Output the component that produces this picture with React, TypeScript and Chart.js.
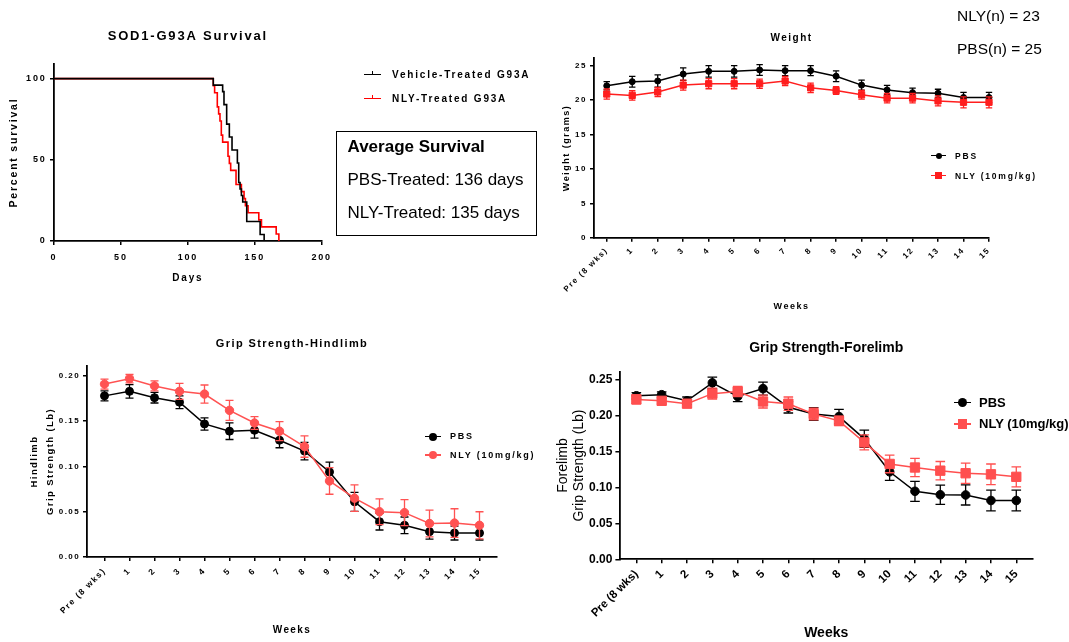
import React, { useEffect, useRef } from 'react';
import { Chart, registerables } from 'chart.js';

Chart.register(...registerables);

const FONT = '"Liberation Sans", Arial, Helvetica, sans-serif';

// ---------------- Survival (Kaplan-Meier) ----------------
const vehicleDays = [0, 119, 126, 127, 129, 131, 133, 137, 138, 139, 140, 141, 144, 154, 157];
const vehicleSurvival = [100, 96, 92, 84, 72, 64, 56, 48, 36, 32, 28, 24, 12, 4, 0];
const nlyDays = [0, 119, 120, 122, 123, 124, 125, 126, 130, 131, 132, 136, 140, 142, 143, 145, 153, 155, 166, 168];
const nlySurvival = [100, 95.7, 91.3, 82.6, 78.3, 73.9, 65.2, 60.9, 52.2, 47.8, 43.5, 34.8, 30.4, 26.1, 21.7, 17.4, 13, 8.7, 4.3, 0];
const survivalXTicks = [0, 50, 100, 150, 200];
const survivalYTicks = [0, 50, 100];

// ---------------- Weekly measurements ----------------
const weekLabels = ['Pre (8 wks)', '1', '2', '3', '4', '5', '6', '7', '8', '9', '10', '11', '12', '13', '14', '15'];

const pbsWeight = [22.1, 22.7, 22.8, 23.8, 24.2, 24.2, 24.4, 24.3, 24.3, 23.5, 22.2, 21.5, 21.1, 21.0, 20.4, 20.4];
const pbsWeightErr = [0.6, 0.78, 0.9, 0.92, 0.83, 0.83, 0.78, 0.73, 0.73, 0.78, 0.73, 0.66, 0.66, 0.6, 0.75, 0.75];
const nlyWeight = [20.9, 20.7, 21.2, 22.2, 22.4, 22.4, 22.4, 22.8, 21.8, 21.4, 20.8, 20.3, 20.3, 19.9, 19.7, 19.7];
const nlyWeightErr = [0.73, 0.68, 0.68, 0.73, 0.73, 0.73, 0.68, 0.66, 0.68, 0.56, 0.63, 0.68, 0.68, 0.73, 0.8, 0.8];
const weightYTicks = [0, 5, 10, 15, 20, 25];

const pbsHind = [0.178, 0.183, 0.176, 0.171, 0.147, 0.139, 0.14, 0.129, 0.117, 0.094, 0.061, 0.039, 0.035, 0.028, 0.0265, 0.0265];
const pbsHindErr = [0.0055, 0.0074, 0.0059, 0.007, 0.0068, 0.0092, 0.0087, 0.0083, 0.0096, 0.0107, 0.0105, 0.0092, 0.0092, 0.0083, 0.0077, 0.0077];
const nlyHind = [0.191, 0.197, 0.189, 0.183, 0.18, 0.162, 0.148, 0.139, 0.122, 0.084, 0.065, 0.05, 0.049, 0.037, 0.0375, 0.035];
const nlyHindErr = [0.0055, 0.0046, 0.0055, 0.0088, 0.01, 0.011, 0.007, 0.0105, 0.0118, 0.0147, 0.0147, 0.0142, 0.0144, 0.0147, 0.0158, 0.015];
const hindYTicks = [0, 0.05, 0.1, 0.15, 0.2];

const pbsFore = [0.228, 0.2295, 0.221, 0.246, 0.227, 0.238, 0.212, 0.2026, 0.199, 0.168, 0.122, 0.0948, 0.09, 0.0897, 0.082, 0.082];
const pbsForeErr = [0.0045, 0.004, 0.0053, 0.008, 0.007, 0.009, 0.008, 0.009, 0.01, 0.012, 0.012, 0.014, 0.0135, 0.014, 0.0144, 0.0144];
const nlyFore = [0.223, 0.221, 0.217, 0.231, 0.234, 0.22, 0.217, 0.2026, 0.193, 0.163, 0.133, 0.128, 0.1236, 0.12, 0.1185, 0.115];
const nlyForeErr = [0.0063, 0.0042, 0.005, 0.0077, 0.007, 0.009, 0.0093, 0.008, 0.0065, 0.0105, 0.0123, 0.0128, 0.0128, 0.014, 0.0144, 0.014];
const foreYTicks = [0, 0.05, 0.1, 0.15, 0.2, 0.25];

// ---------------- helpers ----------------
const spacingPlugin = (px: number) => ({
  id: 'letterSpacing',
  beforeLayout(chart: any) {
    (chart.ctx as any).letterSpacing = px + 'px';
  },
  beforeDraw(chart: any) {
    (chart.ctx as any).letterSpacing = px + 'px';
  },
});

const errorBarPlugin = {
  id: 'errorBars',
  beforeDatasetDraw(chart: any, args: any) {
    const ds = chart.data.datasets[args.index];
    if (!ds.errors) return;
    const meta = args.meta;
    const yScale = chart.scales[meta.yAxisID];
    const ctx = chart.ctx;
    const cap = ds.errorCap || 3;
    ctx.save();
    ctx.strokeStyle = ds.borderColor;
    ctx.lineWidth = ds.errorWidth || 1.3;
    meta.data.forEach((pt: any, i: number) => {
      const v = ds.data[i].y;
      const e = ds.errors[i];
      const x = pt.x;
      const y1 = yScale.getPixelForValue(v + e);
      const y2 = yScale.getPixelForValue(v - e);
      ctx.beginPath();
      ctx.moveTo(x, y1);
      ctx.lineTo(x, y2);
      ctx.moveTo(x - cap, y1);
      ctx.lineTo(x + cap, y1);
      ctx.moveTo(x - cap, y2);
      ctx.lineTo(x + cap, y2);
      ctx.stroke();
    });
    ctx.restore();
  },
};

const f = (size: number, weight: string = 'bold', lineHeight: number = 1.2) => ({ family: FONT, size, weight, lineHeight });
const border = { display: true, color: '#000', width: 1.8 };
const tickGrid = { display: true, drawOnChartArea: false, drawTicks: true, tickLength: 4, color: '#000', lineWidth: 1.5 };

function series(label: string, values: number[], errors: number[], color: string, style: string, radius: number, order: number, cap: number) {
  return {
    label,
    data: values.map((v, i) => ({ x: i, y: v })),
    errors,
    errorCap: cap,
    errorWidth: 1.3,
    borderColor: color,
    backgroundColor: color,
    borderWidth: 1.5,
    pointStyle: style,
    pointRadius: radius,
    pointBorderWidth: 1,
    pointBackgroundColor: color,
    pointBorderColor: color,
    tension: 0,
    clip: false,
    order,
  };
}

function weekAxis(min: number, max: number, fontSize: number, pad: number, height: number, titleFont: any, titlePadBottom: number) {
  return {
    type: 'linear',
    min,
    max,
    afterBuildTicks: (s: any) => {
      s.ticks = weekLabels.map((_, i) => ({ value: i }));
    },
    afterFit: (s: any) => {
      s.height = height;
    },
    border,
    grid: tickGrid,
    ticks: {
      color: '#000',
      font: f(fontSize),
      padding: pad,
      autoSkip: false,
      minRotation: 45,
      maxRotation: 45,
      callback: (v: number) => weekLabels[v] ?? '',
    },
    title: { display: true, text: 'Weeks', color: '#000', font: titleFont, padding: { top: 0, bottom: titlePadBottom } },
  };
}

function valueAxis(max: number, ticks: number[], digits: number, fontSize: number, width: number, title: any, titleFont: any, titlePadTop: number) {
  return {
    type: 'linear',
    min: 0,
    max,
    afterBuildTicks: (s: any) => {
      s.ticks = ticks.map((v) => ({ value: v }));
    },
    afterFit: (s: any) => {
      s.width = width;
    },
    border,
    grid: tickGrid,
    ticks: { color: '#000', font: f(fontSize), padding: 3, callback: (v: number) => v.toFixed(digits) },
    title: { display: true, text: title, color: '#000', font: titleFont, padding: { top: titlePadTop, bottom: 0 } },
  };
}

const baseOptions = (pad: any, title: string, titleFont: any, titlePadBottom: number) => ({
  animation: false,
  responsive: false,
  maintainAspectRatio: false,
  events: [],
  layout: { padding: pad },
  plugins: {
    legend: { display: false },
    tooltip: { enabled: false },
    title: { display: true, text: title, color: '#000', font: titleFont, padding: { top: 0, bottom: titlePadBottom }, fullSize: false },
  },
});

// ---------------- chart configs ----------------
const survivalConfig = (): any => ({
  type: 'line',
  data: {
    datasets: [
      {
        label: 'Vehicle-Treated G93A',
        data: vehicleDays.map((d, i) => ({ x: d, y: vehicleSurvival[i] })),
        stepped: true,
        borderColor: '#000',
        borderWidth: 1.6,
        pointRadius: 0,
        fill: false,
        clip: false,
        order: 1,
      },
      {
        label: 'NLY-Treated G93A',
        data: nlyDays.map((d, i) => ({ x: d, y: nlySurvival[i] })),
        stepped: true,
        borderColor: '#ff0000',
        borderWidth: 1.6,
        pointRadius: 0,
        fill: false,
        clip: false,
        order: 2,
      },
    ],
  },
  options: {
    ...baseOptions({ top: 28.2, left: 0, right: 18.3, bottom: 0 }, 'SOD1-G93A Survival', f(13), 20.2),
    scales: {
      x: {
        type: 'linear',
        min: 0,
        max: 200,
        afterBuildTicks: (s: any) => {
          s.ticks = survivalXTicks.map((v) => ({ value: v }));
        },
        afterFit: (s: any) => {
          s.height = 59;
        },
        border,
        grid: tickGrid,
        ticks: { color: '#000', font: f(9), padding: 7, maxRotation: 0, autoSkip: false },
        title: { display: true, text: 'Days', color: '#000', font: f(10), padding: { top: 0, bottom: 16 } },
      },
      y: {
        type: 'linear',
        min: 0,
        max: 109,
        afterBuildTicks: (s: any) => {
          s.ticks = survivalYTicks.map((v) => ({ value: v }));
        },
        afterFit: (s: any) => {
          s.width = 54;
        },
        border,
        grid: tickGrid,
        ticks: { color: '#000', font: f(9), padding: 3.5 },
        title: { display: true, text: 'Percent survival', color: '#000', font: f(10.5), padding: { top: 7.5, bottom: 0 } },
      },
    },
  },
  plugins: [spacingPlugin(1.8)],
});

const weightConfig = (): any => ({
  type: 'line',
  data: {
    datasets: [
      series('PBS', pbsWeight, pbsWeightErr, '#000000', 'circle', 3, 2, 3.2),
      series('NLY (10mg/kg)', nlyWeight, nlyWeightErr, '#ff1e1e', 'rect', 4.4, 1, 3.2),
    ],
  },
  options: {
    ...baseOptions({ top: 32.3, left: 0, right: 80, bottom: 0 }, 'Weight', f(10), 14),
    scales: {
      x: weekAxis(-0.5, 15, 8, 4, 82.3, f(9), 7.9),
      y: valueAxis(26.1, weightYTicks, 0, 8, 54, 'Weight (grams)', f(9), 21.6),
    },
  },
  plugins: [spacingPlugin(1.5), errorBarPlugin],
});

const hindConfig = (): any => ({
  type: 'line',
  data: {
    datasets: [
      series('PBS', pbsHind, pbsHindErr, '#000000', 'circle', 4, 2, 4),
      series('NLY (10mg/kg)', nlyHind, nlyHindErr, '#ff5252', 'circle', 4.2, 1, 4),
    ],
  },
  options: {
    ...baseOptions({ top: 17.4, left: 0, right: 43, bottom: 0 }, 'Grip Strength-Hindlimb', f(11), 15.4),
    scales: {
      x: weekAxis(-0.7, 15.7, 8.5, 5, 85, f(10), 5.3),
      y: valueAxis(0.211, hindYTicks, 2, 8, 87, ['Hindlimb', 'Grip Strength (Lb)'], f(9.5, 'bold', 1.63), 26.75),
    },
  },
  plugins: [spacingPlugin(1.4), errorBarPlugin],
});

const foreConfig = (): any => ({
  type: 'line',
  data: {
    datasets: [
      series('PBS', pbsFore, pbsForeErr, '#000000', 'circle', 4.3, 2, 4.8),
      series('NLY (10mg/kg)', nlyFore, nlyForeErr, '#ff4f4f', 'rect', 6.6, 1, 4.8),
    ],
  },
  options: {
    ...baseOptions({ top: 19.3, left: 0, right: 36, bottom: 0 }, 'Grip Strength-Forelimb', f(14), 15.6),
    scales: {
      x: weekAxis(-0.67, 15.66, 11.5, 4, 82.7, f(14), 0.9),
      y: valueAxis(0.2616, foreYTicks, 2, 12, 79.4, ['Forelimb', 'Grip Strength (Lb)'], f(14, 'normal', 1.18), 14.75),
    },
  },
  plugins: [errorBarPlugin],
});

// ---------------- components ----------------
function ChartCanvas({ left, top, width, height, make }: { left: number; top: number; width: number; height: number; make: () => any }) {
  const ref = useRef<HTMLCanvasElement>(null);
  useEffect(() => {
    const chart = new Chart(ref.current as HTMLCanvasElement, make());
    return () => chart.destroy();
  }, []);
  return (
    <canvas
      ref={ref}
      width={width}
      height={height}
      style={{ position: 'absolute', left, top, width, height, display: 'block' }}
    />
  );
}

function LegendItem(props: {
  x0: number;
  len: number;
  cy: number;
  color: string;
  marker: 'circle' | 'square' | 'tick';
  size: number;
  textX: number;
  text: string;
  fontSize: number;
  spacing: number;
}) {
  const { x0, len, cy, color, marker, size, textX, text, fontSize, spacing } = props;
  const mid = x0 + len / 2;
  return (
    <>
      <div style={{ position: 'absolute', left: x0, top: cy - 0.8, width: len, height: 1.6, background: color }} />
      {marker === 'tick' && (
        <div style={{ position: 'absolute', left: mid - 0.75, top: cy - 4, width: 1.5, height: 4, background: color }} />
      )}
      {marker !== 'tick' && (
        <div
          style={{
            position: 'absolute',
            left: mid - size / 2,
            top: cy - size / 2,
            width: size,
            height: size,
            borderRadius: marker === 'circle' ? '50%' : 0,
            background: color,
          }}
        />
      )}
      <div
        style={{
          position: 'absolute',
          left: textX,
          top: cy - fontSize * 0.6,
          fontSize,
          lineHeight: fontSize * 1.2 + 'px',
          fontWeight: 'bold',
          letterSpacing: spacing,
          whiteSpace: 'nowrap',
          color: '#000',
        }}
      >
        {text}
      </div>
    </>
  );
}

function PlainText({ x, cy, size, bold, text }: { x: number; cy: number; size: number; bold?: boolean; text: string }) {
  return (
    <div
      style={{
        position: 'absolute',
        left: x,
        top: cy - size * 0.6,
        fontSize: size,
        lineHeight: size * 1.2 + 'px',
        fontWeight: bold ? 'bold' : 'normal',
        whiteSpace: 'nowrap',
        color: '#000',
      }}
    >
      {text}
    </div>
  );
}

export default function App() {
  return (
    <div
      style={{
        position: 'absolute',
        left: 0,
        top: 0,
        width: 1069,
        height: 642,
        background: '#fff',
        overflow: 'hidden',
        fontFamily: FONT,
      }}
    >
      <ChartCanvas left={0} top={0} width={340} height={300} make={survivalConfig} />
      <ChartCanvas left={540} top={0} width={529} height={320} make={weightConfig} />
      <ChartCanvas left={0} top={320} width={540} height={322} make={hindConfig} />
      <ChartCanvas left={540} top={320} width={529} height={322} make={foreConfig} />

      {/* Survival legend */}
      <LegendItem x0={364} len={17} cy={74.5} color="#000" marker="tick" size={0} textX={392} text="Vehicle-Treated G93A" fontSize={10} spacing={1.8} />
      <LegendItem x0={364} len={17} cy={98.5} color="#ff0000" marker="tick" size={0} textX={392} text="NLY-Treated G93A" fontSize={10} spacing={1.8} />

      {/* Average survival box */}
      <div style={{ position: 'absolute', left: 336, top: 131, width: 201, height: 105, border: '1.5px solid #000', boxSizing: 'border-box' }} />
      <PlainText x={347.5} cy={146.7} size={17} bold text="Average Survival" />
      <PlainText x={347.5} cy={180} size={17} text="PBS-Treated: 136 days" />
      <PlainText x={347.5} cy={213.3} size={17} text="NLY-Treated: 135 days" />

      {/* n labels */}
      <PlainText x={957} cy={16.7} size={15.5} text="NLY(n) = 23" />
      <PlainText x={957} cy={49.3} size={15.5} text="PBS(n) = 25" />

      {/* Weight legend */}
      <LegendItem x0={931} len={15} cy={155.7} color="#000" marker="circle" size={6} textX={955} text="PBS" fontSize={8.5} spacing={1.8} />
      <LegendItem x0={931} len={15} cy={175.7} color="#ff1e1e" marker="square" size={6.5} textX={955} text="NLY (10mg/kg)" fontSize={8.5} spacing={1.8} />

      {/* Hindlimb legend */}
      <LegendItem x0={425} len={16} cy={436.7} color="#000" marker="circle" size={8} textX={450} text="PBS" fontSize={9} spacing={1.8} />
      <LegendItem x0={425} len={16} cy={455} color="#ff5252" marker="circle" size={8.4} textX={450} text="NLY (10mg/kg)" fontSize={9} spacing={1.8} />

      {/* Forelimb legend */}
      <LegendItem x0={954} len={17} cy={402.7} color="#000" marker="circle" size={9} textX={979} text="PBS" fontSize={13} spacing={0} />
      <LegendItem x0={954} len={17} cy={424} color="#ff4f4f" marker="square" size={9.5} textX={979} text="NLY (10mg/kg)" fontSize={13} spacing={0} />
    </div>
  );
}
